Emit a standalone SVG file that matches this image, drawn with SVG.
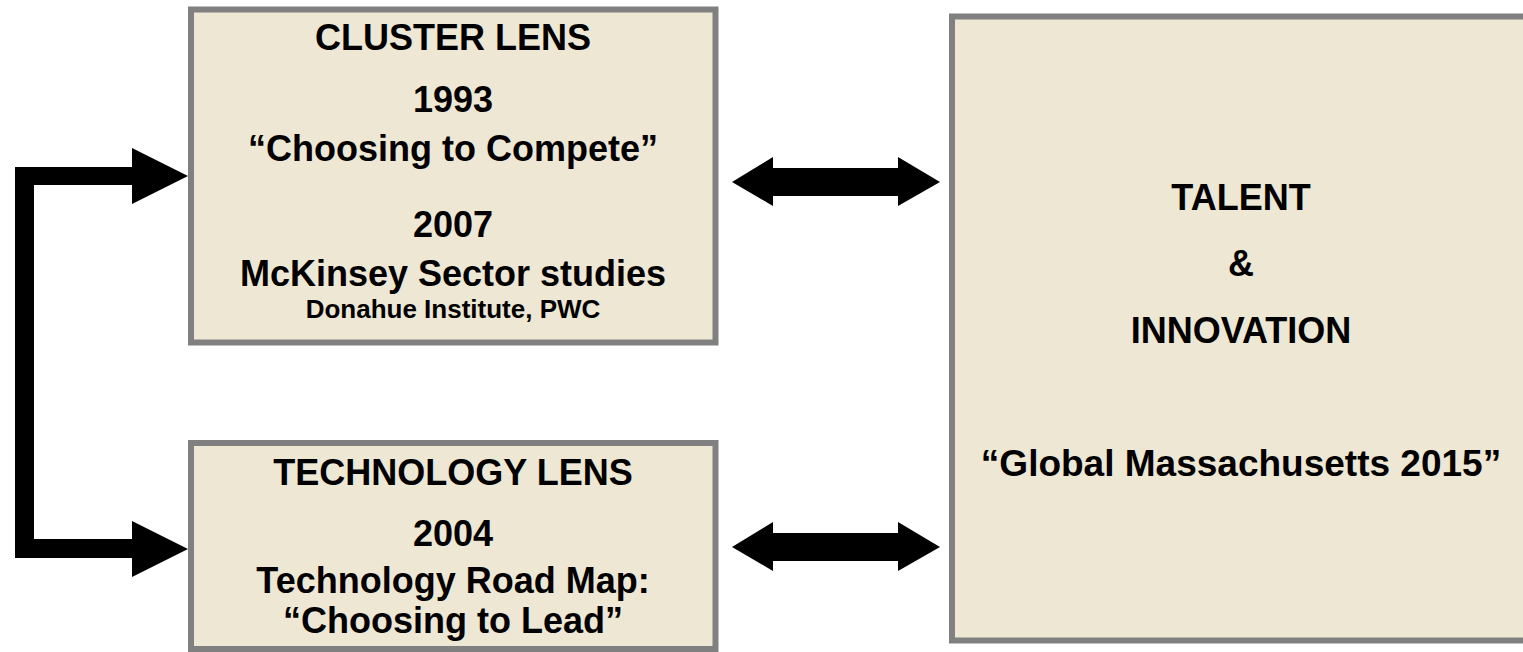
<svg xmlns="http://www.w3.org/2000/svg" width="1523" height="652" viewBox="0 0 1523 652">
<style>
.box{fill:#EDE7D3;stroke:#808080;stroke-width:6}
.t{font-family:"Liberation Sans",Arial,sans-serif;font-weight:bold;fill:#000;text-anchor:middle;font-size:36px}
.s{font-size:26px}
.arr{fill:#000}
</style>
<rect width="1523" height="652" fill="#fff"/>
<g id="connectors">
<polygon class="arr" points="15,167 132,167 132,148 188,176 132,204 132,185 34,185 34,539 132,539 132,521 188,549 132,577 132,558 15,558"/>
<polygon class="arr" points="732,182 773,157 773,168 898,168 898,157 940,182 898,206 898,196 773,196 773,206"/>
<polygon class="arr" points="732,547 773,522 773,533 898,533 898,522 940,547 898,571 898,561 773,561 773,571"/>
</g>
<g id="cluster">
<rect class="box" x="191" y="9.5" width="524.5" height="333"/>
<text class="t" x="453" y="50">CLUSTER LENS</text>
<text class="t" x="453" y="112">1993</text>
<text class="t" x="453" y="161">“Choosing to Compete”</text>
<text class="t" x="453" y="237">2007</text>
<text class="t" x="453" y="286">McKinsey Sector studies</text>
<text class="t s" x="453" y="318">Donahue Institute, PWC</text>
</g>
<g id="technology">
<rect class="box" x="191" y="443" width="524.5" height="206"/>
<text class="t" x="453" y="485">TECHNOLOGY LENS</text>
<text class="t" x="453" y="546">2004</text>
<text class="t" x="453" y="593">Technology Road Map:</text>
<text class="t" x="453" y="633">“Choosing to Lead”</text>
</g>
<g id="talent">
<rect class="box" x="952" y="16.5" width="580" height="624"/>
<text class="t" x="1241" y="210">TALENT</text>
<text class="t" x="1241" y="276">&amp;</text>
<text class="t" x="1241" y="343">INNOVATION</text>
<text class="t" x="1241" y="476" style="font-size:37px">“Global Massachusetts 2015”</text>
</g>
</svg>
